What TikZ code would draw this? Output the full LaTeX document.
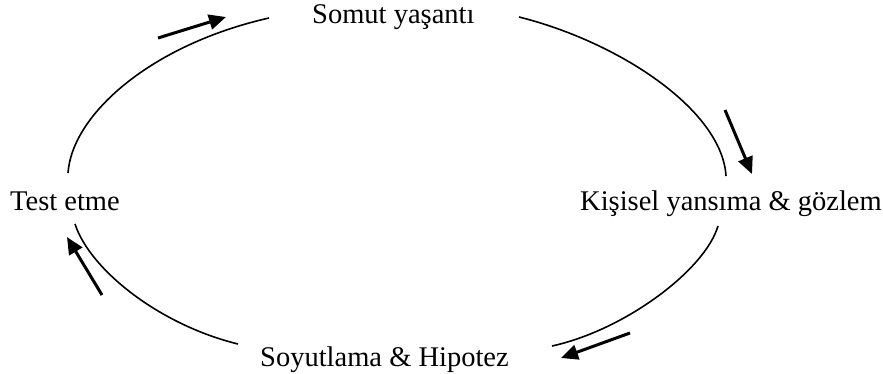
\documentclass[tikz,border=0pt]{standalone}
\usepackage{fontspec}
\setmainfont{Liberation Serif}
\usetikzlibrary{arrows.meta}
\tikzset{
  lbl/.style={anchor=base west, inner sep=0pt, font=\fontsize{28.5}{32}\selectfont},
  arc/.style={line width=1.6pt},
  flow/.style={line width=3pt, -{Triangle[length=17pt,width=15pt]}}
}
\begin{document}
\begin{tikzpicture}[x=1pt,y=-1pt]
\useasboundingbox (0,0) rectangle (883,374);
% labels
\node[lbl] (som) at (312,24) {Somut yaşantı};
\node[lbl] (kis) at (580,211) {Kişisel yansıma \& gözlem};
\node[lbl] (soy) at (260,366) {Soyutlama \& Hipotez};
\node[lbl] (tes) at (10,211) {Test etme};
% arc end points
\coordinate (a1) at (68,173);
\coordinate (a2) at (269,18);
\coordinate (b1) at (519,17);
\coordinate (b2) at (726,176);
\coordinate (c1) at (718,226);
\coordinate (c2) at (552,346);
\coordinate (d1) at (238,344);
\coordinate (d2) at (75,224);
\draw[arc] (a1) .. controls (72,115) and (150,45) .. (a2);
\draw[arc] (b1) .. controls (619,42) and (722,110) .. (b2);
\draw[arc] (c1) .. controls (705,270) and (625,330) .. (c2);
\draw[arc] (d1) .. controls (160,325) and (90,270) .. (d2);
% direction arrows
\coordinate (p1) at (158,38);  \coordinate (q1) at (226,17);
\coordinate (p2) at (725,110); \coordinate (q2) at (752,174);
\coordinate (p3) at (630,333); \coordinate (q3) at (561,358);
\coordinate (p4) at (102,295); \coordinate (q4) at (67,237);
\draw[flow] (p1) -- (q1);
\draw[flow] (p2) -- (q2);
\draw[flow] (p3) -- (q3);
\draw[flow] (p4) -- (q4);
\end{tikzpicture}
\end{document}
